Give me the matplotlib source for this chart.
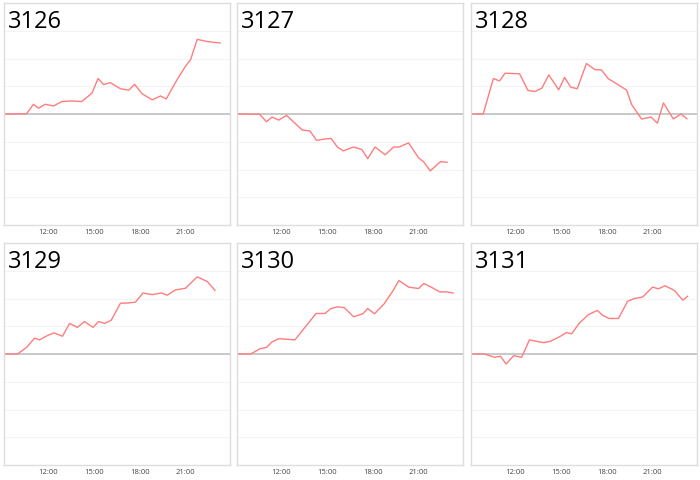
import matplotlib
matplotlib.use("Agg")
import matplotlib.pyplot as plt
import matplotlib.dates as mdates
import pandas as pd

plt.rcParams['font.family'] = ['Open Sans', 'DejaVu Sans']

names = ["3126", "3127", "3128", "3129", "3130", "3131"]

t_3126 = ["09:05", "10:34", "11:01", "11:21", "11:47", "12:20", "12:53", "13:26", "14:11",
          "14:51", "15:15", "15:37", "16:03", "16:43", "17:16", "17:39", "18:08", "18:48",
          "19:21", "19:43", "20:26", "20:59", "21:19", "21:45", "22:25", "23:15"]
v_3126 = [0, 0.01, 0.35, 0.21, 0.35, 0.29, 0.45, 0.47, 0.45, 0.75, 1.28, 1.06, 1.13,
          0.91, 0.86, 1.07, 0.73, 0.51, 0.65, 0.54, 1.24, 1.72, 1.96, 2.69, 2.61, 2.56]

t_3127 = ["09:05", "10:34", "11:01", "11:23", "11:49", "12:20", "13:22", "13:52", "14:18",
          "14:51", "15:15", "15:40", "16:03", "16:43", "17:16", "17:39", "18:08", "18:48",
          "19:21", "19:43", "20:20", "20:59", "21:19", "21:45", "22:25", "22:51"]
v_3127 = [0, -0.01, -0.28, -0.11, -0.22, -0.05, -0.58, -0.61, -0.95, -0.9, -0.88, -1.19,
          -1.33, -1.19, -1.28, -1.61, -1.19, -1.47, -1.19, -1.19, -1.04, -1.58, -1.72,
          -2.05, -1.72, -1.74]

t_3128 = ["09:05", "09:53", "10:33", "10:57", "11:19", "12:16", "12:49", "13:17", "13:44",
          "14:11", "14:50", "15:13", "15:37", "16:03", "16:39", "17:12", "17:38", "18:05",
          "18:41", "19:17", "19:37", "20:16", "20:53", "21:18", "21:42", "22:21", "22:51",
          "23:14"]
v_3128 = [0, 0, 1.28, 1.19, 1.47, 1.45, 0.85, 0.81, 0.93, 1.41, 0.87, 1.32, 0.97, 0.91,
          1.82, 1.6, 1.59, 1.27, 1.07, 0.86, 0.34, -0.18, -0.11, -0.33, 0.4, -0.18, 0.0,
          -0.17]

t_3129 = ["09:05", "09:58", "10:34", "11:05", "11:25", "11:57", "12:22", "12:55", "13:23",
          "13:54", "14:21", "14:55", "15:17", "15:41", "16:07", "16:43", "17:16", "17:42",
          "18:12", "18:48", "19:25", "19:47", "20:20", "20:59", "21:45", "22:25", "22:55"]
v_3129 = [0, 0, 0.24, 0.57, 0.51, 0.67, 0.76, 0.64, 1.10, 0.96, 1.17, 0.96, 1.17, 1.10,
          1.22, 1.83, 1.84, 1.87, 2.20, 2.14, 2.20, 2.12, 2.31, 2.37, 2.78, 2.61, 2.29]

t_3130 = ["09:05", "09:59", "10:36", "11:02", "11:22", "11:48", "12:24", "12:53", "14:16",
          "14:51", "15:15", "15:41", "16:07", "16:44", "17:20", "17:39", "18:06", "18:43",
          "19:18", "19:42", "20:20", "20:59", "21:20", "21:49", "22:22", "22:49", "23:15"]
v_3130 = [0, 0, 0.19, 0.24, 0.43, 0.55, 0.53, 0.51, 1.46, 1.46, 1.64, 1.70, 1.67, 1.34,
          1.45, 1.64, 1.45, 1.80, 2.27, 2.65, 2.41, 2.36, 2.54, 2.41, 2.24, 2.24, 2.20]

t_3131 = ["09:05", "09:58", "10:38", "11:01", "11:23", "11:53", "12:24", "12:55", "13:26",
          "13:52", "14:18", "14:51", "15:20", "15:41", "16:10", "16:47", "17:22", "17:42",
          "18:08", "18:45", "19:21", "19:47", "20:20", "20:59", "21:23", "21:48", "22:25",
          "22:58", "23:17"]
v_3131 = [0, 0, -0.12, -0.08, -0.36, -0.06, -0.12, 0.51, 0.45, 0.41, 0.46, 0.61, 0.77,
          0.73, 1.10, 1.42, 1.57, 1.40, 1.28, 1.28, 1.90, 2.00, 2.05, 2.41, 2.35, 2.46,
          2.29, 1.94, 2.08]

times = [t_3126, t_3127, t_3128, t_3129, t_3130, t_3131]
values = [v_3126, v_3127, v_3128, v_3129, v_3130, v_3131]
tick_labels = ["12:00", "15:00", "18:00", "21:00"]

day = "2020-01-01 "
def to_dt(lst):
    return pd.to_datetime([day + s for s in lst])

fig = plt.figure(figsize=(7, 4.8), dpi=100)
lefts = [4 / 700, 237 / 700, 471 / 700]
bottoms = [1 - 225 / 480, 1 - 465 / 480]
w, h = 226 / 700, 222 / 480

for i, name in enumerate(names):
    ax = fig.add_axes([lefts[i % 3], bottoms[i // 3], w, h])
    ax.plot(to_dt(times[i]), values[i], color="#ff7d7d", linewidth=1.0)
    ax.axhline(0, color="#bfbfbf", linewidth=1.2, zorder=1)
    for g in [-3, -2, -1, 1, 2, 3]:
        ax.axhline(g, color="#f3f3f3", linewidth=0.8, zorder=0)
    ax.set_ylim(-4, 4)
    ax.set_xlim(to_dt(["09:05"])[0], to_dt(["23:54"])[0])
    ax.set_yticks([])
    ax.set_xticks(to_dt(tick_labels))
    ax.set_xticklabels(tick_labels)
    ax.tick_params(axis="x", length=0, pad=3, labelsize=5.5, labelcolor="#444444")
    for s in ax.spines.values():
        s.set_color("#dddddd")
        s.set_linewidth(1.0)
    ax.text(0.018, 0.968, name, transform=ax.transAxes, fontsize=17,
            va="top", ha="left", color="black")

fig.savefig("out.png", dpi=100)
